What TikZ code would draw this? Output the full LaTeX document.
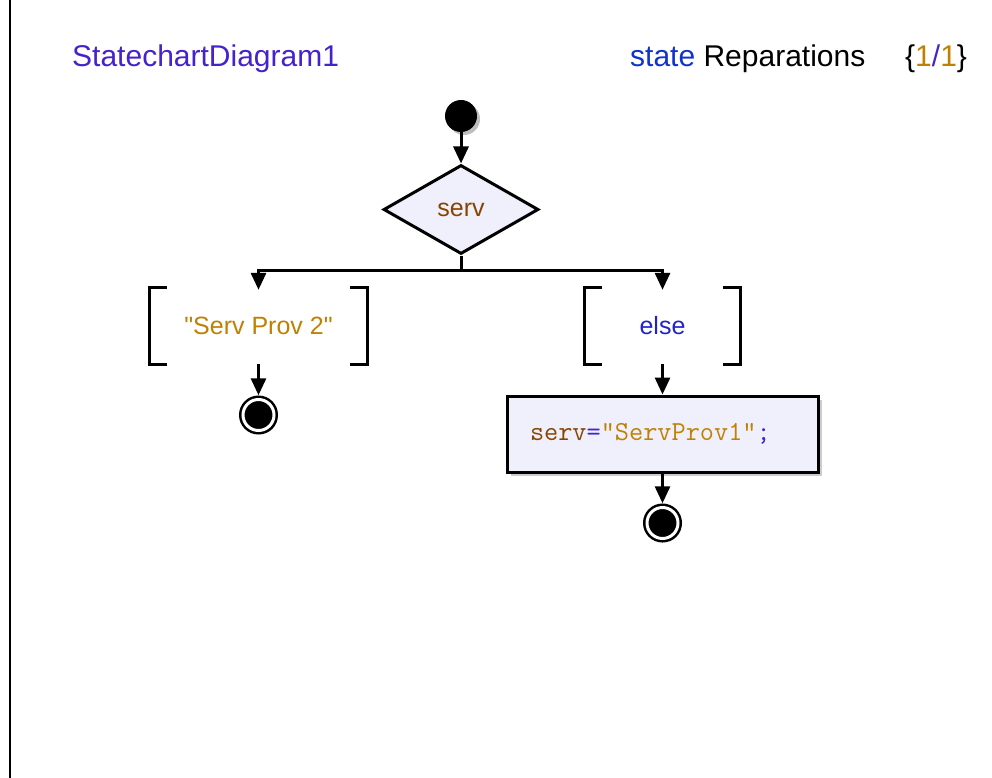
\documentclass[tikz,border=0pt]{standalone}
\usepackage{fontspec}
\setmainfont{Liberation Sans}
\usepackage{tikz}
\usetikzlibrary{positioning,arrows.meta,shapes.geometric,shadows}

\definecolor{titleblue}{RGB}{68,34,204}
\definecolor{kwblue}{RGB}{17,51,204}
\definecolor{elseblue}{RGB}{34,34,204}
\definecolor{strgold}{RGB}{192,128,0}
\definecolor{varbrown}{RGB}{136,68,0}
\definecolor{boxfill}{RGB}{240,240,252}

\begin{document}
\begin{tikzpicture}[x=1pt, y=-1pt, every node/.style={font=\fontsize{25}{30}\selectfont},
    hdr/.style={font=\fontsize{30}{36}\selectfont, inner sep=0pt},
    initstate/.style={circle, fill=black, minimum size=32pt, inner sep=0pt, drop shadow={shadow xshift=3pt, shadow yshift=-3pt, fill=gray!50, opacity=1}},
    endstate/.style={circle, fill=black, draw=black, line width=2.5pt, double=white, double distance=3pt, minimum size=31pt, inner sep=0pt, drop shadow={shadow xshift=3pt, shadow yshift=-3pt, fill=gray!50, opacity=1}},
    decision/.style={diamond, draw, line width=3pt, fill=boxfill, minimum width=155pt, minimum height=89pt, aspect=1.74, inner sep=0pt, text=varbrown},
    guard/.style={rectangle, minimum height=76pt, inner sep=0pt},
    action/.style={rectangle, draw, line width=3pt, fill=boxfill, minimum width=311pt, minimum height=76pt, text width=265pt, align=left, inner sep=0pt, drop shadow={shadow xshift=4pt, shadow yshift=-4pt, fill=gray!40, opacity=1}},
    arr/.style={-{Triangle[length=17pt,width=15pt]}, line width=3pt},
    brk/.style={line width=3pt}]
  \useasboundingbox (0,0) rectangle (992,778);
  \draw[line width=1.5pt] (10,0) -- (10,778);

  % header
  \node[hdr, anchor=west, text=titleblue] (title) at (72,59) {StatechartDiagram1};
  \node[hdr, anchor=west] (sname) at (630,59) {\textcolor{kwblue}{state} Reparations};
  \node[hdr, anchor=west] (page) at (905,59) {\{\textcolor{strgold}{1}\textcolor{titleblue}{/}\textcolor{strgold}{1}\}};

  % states
  \node[initstate] (start) at (461,116) {};
  \node[decision] (dec) at (461,209.5) {serv};
  \coordinate (fork) at (461,270);
  \node[guard, minimum width=217pt, text=strgold] (g1) at (258.5,326) {\textquotedbl Serv Prov 2\textquotedbl};
  \node[guard, minimum width=155pt, text=elseblue] (g2) at (662.5,326) {else};
  \node[action] (act) at (662.5,434) {\ttfamily\fontsize{27.5}{30}\selectfont\textcolor{varbrown}{serv}\textcolor{titleblue}{=}\textcolor{strgold}{"ServProv1"}\textcolor{titleblue}{;}};
  \node[endstate] (fin1) at (258.5,415) {};
  \node[endstate] (fin2) at (662.5,523) {};

  % brackets
  \foreach \g in {g1,g2} {
    \draw[brk] ([xshift=17pt]\g.north west) -- (\g.north west) -- (\g.south west) -- ([xshift=17pt]\g.south west);
    \draw[brk] ([xshift=-17pt]\g.north east) -- (\g.north east) -- (\g.south east) -- ([xshift=-17pt]\g.south east);
  }

  % transitions
  \draw[arr] (start) -- (dec.north);
  \draw[line width=3pt] (dec.south) -- (fork);
  \draw[arr] (fork) -| ([yshift=-2pt]g1.north);
  \draw[arr] (fork) -| ([yshift=-2pt]g2.north);
  \draw[arr, shorten >=3pt] (g1.south) -- (fin1);
  \draw[arr] (g2.south) -- (act.north);
  \draw[arr, shorten >=3pt] (act.south) -- (fin2);
\end{tikzpicture}
\end{document}
